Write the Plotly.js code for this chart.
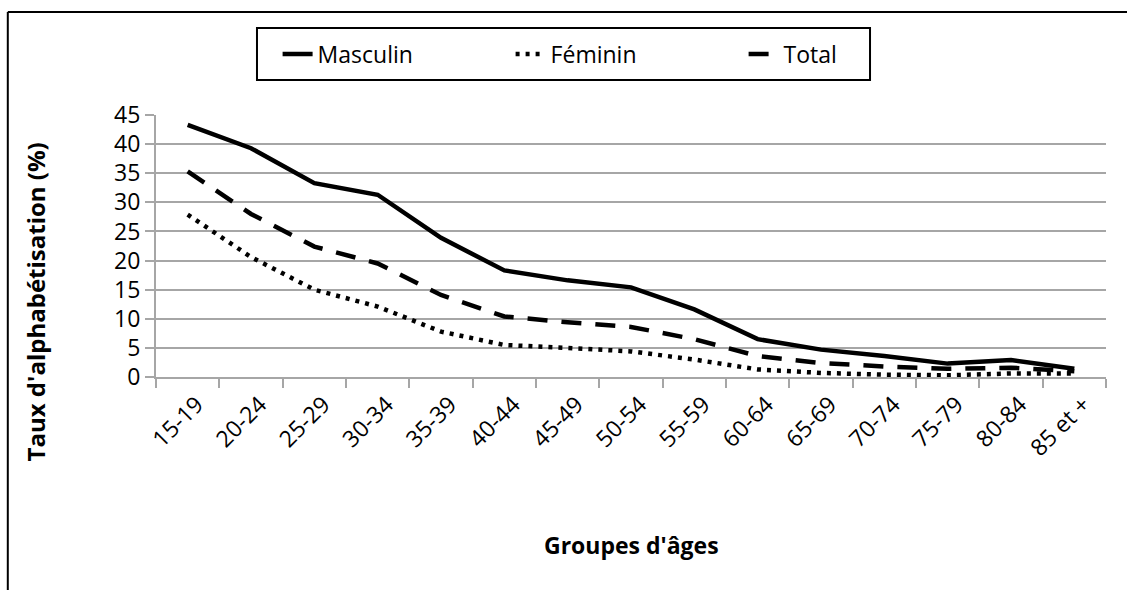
<!DOCTYPE html>
<html>
<head>
<meta charset="utf-8">
<script src="https://cdn.plot.ly/plotly-3.0.1.min.js"></script>
<style>html,body{margin:0;padding:0;background:#fff;}#chart{width:1127px;height:590px;}</style>
</head>
<body>
<div id="chart"></div>
<script>
const categories = ["15-19","20-24","25-29","30-34","35-39","40-44","45-49","50-54","55-59","60-64","65-69","70-74","75-79","80-84","85 et +"];
const masculin = [43.3, 39.3, 33.3, 31.3, 23.9, 18.3, 16.6, 15.4, 11.6, 6.5, 4.7, 3.6, 2.3, 2.9, 1.4];
const feminin  = [27.9, 20.6, 15.0, 12.1, 7.8, 5.5, 5.0, 4.4, 3.0, 1.3, 0.7, 0.4, 0.3, 0.6, 0.6];
const total    = [35.3, 28.0, 22.4, 19.5, 14.1, 10.4, 9.4, 8.6, 6.5, 3.6, 2.4, 1.8, 1.4, 1.6, 1.0];
const yTicks = [0,5,10,15,20,25,30,35,40,45];

const traces = [
  {x: categories, y: masculin, name: "Masculin", type: "scatter", mode: "lines",
   line: {color: "#000", width: 4.5, dash: "solid"}},
  {x: categories, y: feminin, name: "Féminin", type: "scatter", mode: "lines",
   line: {color: "#000", width: 4.5, dash: "4px,6px"}},
  {x: categories, y: total, name: "Total", type: "scatter", mode: "lines",
   line: {color: "#000", width: 4.5, dash: "20px,14px"}}
];

const font = "Open Sans, Noto Sans, sans-serif";
const layout = {
  width: 1127, height: 590,
  margin: {l: 156, r: 21, t: 115, b: 213},
  paper_bgcolor: "#fff", plot_bgcolor: "#fff",
  font: {family: font, size: 22, color: "#000"},
  showlegend: true,
  legend: {
    orientation: "h", x: 0.128, y: 1.233, xanchor: "left", yanchor: "middle",
    borderwidth: 0, bgcolor: "rgba(0,0,0,0)",
    font: {family: font, size: 23, color: "#000"},
    entrywidth: 188, entrywidthmode: "pixels",
    traceorder: "normal"
  },
  xaxis: {
    type: "category",
    range: [-0.5, 14.5],
    tickson: "boundaries",
    ticks: "outside", ticklen: 9, tickwidth: 2, tickcolor: "#a6a6a6",
    showline: true, linecolor: "#a6a6a6", linewidth: 2,
    showgrid: false, zeroline: false,
    tickangle: -45,
    ticklabelshift: 9,
    ticklabelstandoff: 3,
    tickfont: {family: font, size: 23, color: "#000"},
    fixedrange: true
  },
  yaxis: {
    range: [0, 45],
    tickmode: "array", tickvals: yTicks, ticktext: yTicks.map(String),
    ticks: "outside", ticklen: 9, tickwidth: 2, tickcolor: "#a6a6a6",
    showline: true, linecolor: "#a6a6a6", linewidth: 2,
    showgrid: true, gridcolor: "#a6a6a6", gridwidth: 2,
    zeroline: false,
    tickfont: {family: font, size: 23, color: "#000"},
    fixedrange: true
  },
  annotations: [
    {text: "<b>Taux d'alphabétisation (%)</b>", xref: "paper", yref: "paper",
     x: -0.127, y: 0.286, xanchor: "center", yanchor: "middle", textangle: -90,
     showarrow: false, font: {family: font, size: 24, color: "#000"}},
    {text: "<b>Groupes d'âges</b>", xref: "paper", yref: "paper",
     x: 0.5, y: -0.641, xanchor: "center", yanchor: "middle",
     showarrow: false, font: {family: font, size: 23, color: "#000"}}
  ],
  shapes: [
    {type: "rect", xref: "paper", yref: "paper", x0: 0.1063, x1: 0.7516, y0: 1.1336, y1: 1.332,
     line: {color: "#000", width: 2}, fillcolor: "rgba(0,0,0,0)", layer: "below"},
    {type: "line", xref: "paper", yref: "paper", x0: -0.156, x1: 1.03, y0: 1.393, y1: 1.393,
     line: {color: "#000", width: 2}},
    {type: "line", xref: "paper", yref: "paper", x0: -0.156, x1: -0.156, y0: 1.393, y1: -0.83,
     line: {color: "#000", width: 2}}
  ]
};

Plotly.newPlot("chart", traces, layout, {displayModeBar: false, staticPlot: true});
</script>
</body>
</html>
